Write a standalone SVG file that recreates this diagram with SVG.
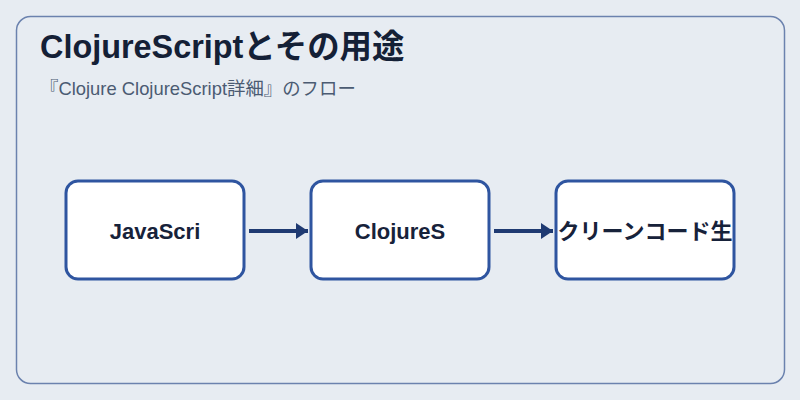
<svg xmlns="http://www.w3.org/2000/svg" width="800" height="400" viewBox="0 0 800 400">
<defs>
<style>
.node rect{fill:#ffffff;stroke:#2f55a0;stroke-width:3}
.node text{font-family:"Liberation Sans","Noto Sans CJK JP",sans-serif;font-size:22px;font-weight:bold;fill:#17223a;text-anchor:middle}
.conn line{stroke:#1f3a72;stroke-width:4}
</style>
<marker id="ah" markerWidth="12" markerHeight="16" refX="12" refY="8" orient="auto" markerUnits="userSpaceOnUse">
<path d="M0,0 L12,8 L0,16 Z" fill="#1f3a72"/>
</marker>
</defs>
<rect x="0" y="0" width="800" height="400" fill="#e7ecf2"/>
<rect x="16.5" y="16.5" width="768" height="367" rx="14" fill="#e7ecf2" stroke="#6b82ae" stroke-width="1.5"/>
<text x="40" y="58" font-family="'Liberation Sans','Noto Sans CJK JP',sans-serif" font-size="32.4" font-weight="bold" fill="#142036">ClojureScriptとその用途</text>
<text x="40" y="95" font-family="'Liberation Sans','Noto Sans CJK JP',sans-serif" font-size="18.4" fill="#4b5b72">『Clojure ClojureScript詳細』のフロー</text>
<g class="conn">
<line x1="249" y1="231" x2="308" y2="231" marker-end="url(#ah)"/>
<line x1="494" y1="231" x2="553" y2="231" marker-end="url(#ah)"/>
</g>
<g id="n1" class="node"><rect x="66" y="181" width="178" height="98" rx="12"/><text x="155" y="239">JavaScri</text></g>
<g id="n2" class="node"><rect x="311" y="181" width="178" height="98" rx="12"/><text x="400" y="239">ClojureS</text></g>
<g id="n3" class="node"><rect x="556" y="181" width="178" height="98" rx="12"/><text x="645" y="239">クリーンコード生</text></g>
</svg>
